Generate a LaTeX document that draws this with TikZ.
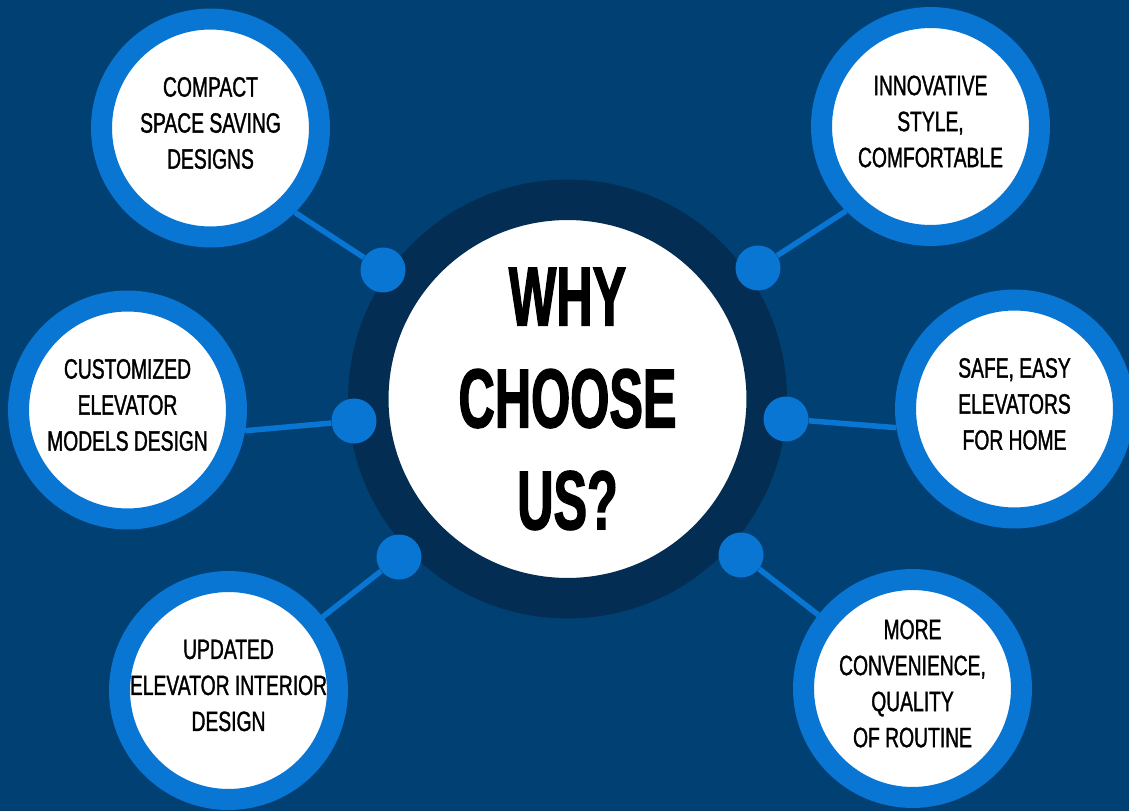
\documentclass[tikz,border=0pt]{standalone}
\usepackage{fontspec}
\setmainfont{Liberation Sans}
\newfontfamily\itemfont[FakeStretch=0.69,FakeBold=1.2]{Liberation Sans}
\newfontfamily\titlefont[FakeStretch=0.6,FakeBold=1.5]{Liberation Sans}
\definecolor{bgblue}{RGB}{1,64,115}
\definecolor{ringblue}{RGB}{9,118,212}
\definecolor{darkring}{RGB}{3,45,82}

\begin{document}
\begin{tikzpicture}[x=0.02cm, y=-0.02cm,
    sat/.style={circle, fill=white, draw=ringblue, line width=0.42cm,
        minimum size=4.36cm, inner sep=0pt},
    sattext/.style={align=center, inner sep=0pt,
        font=\itemfont\fontsize{15.9}{20.5}\selectfont},
    dot/.style={circle, fill=ringblue, minimum size=0.9cm, inner sep=0pt},
    link/.style={ringblue, line width=0.11cm}]
            % Background
            \useasboundingbox (0,0) rectangle (1129,811);
            \fill[bgblue] (0,0) rectangle (1129,811);
            % Center
            \node[circle, fill=white, draw=darkring, line width=0.81cm,
                minimum size=7.97cm, inner sep=0pt, align=center,
                font=\titlefont\bfseries\fontsize{47.7}{58}\selectfont]
                (Center) at (567.5,399) {WHY\\CHOOSE\\US?};
            % Satellites
            \foreach \name/\x/\y/\txt in {
                tl/210.5/128/{COMPACT\\SPACE SAVING\\DESIGNS},
                ml/127.5/410/{CUSTOMIZED\\ELEVATOR\\MODELS DESIGN},
                bl/228.5/690.5/{UPDATED\\ELEVATOR INTERIOR\\DESIGN},
                tr/930.5/126.5/{INNOVATIVE\\STYLE,\\COMFORTABLE},
                mr/1014.5/409/{SAFE, EASY\\ELEVATORS\\FOR HOME},
                br/912.5/688.5/{MORE\\CONVENIENCE,\\QUALITY\\OF ROUTINE}} {
                \node[sat] (Sat-\name) at (\x,\y) {};
                \node[sattext] (Txt-\name) at ([yshift=0.1cm]Sat-\name.center) {\txt};
            }
            % Dots
            \foreach \name/\x/\y in {tl/383/270, ml/354/421, bl/399/557,
                tr/758/268, mr/786/419, br/741/555} {
                \node[dot] (Dot-\name) at (\x,\y) {};
            }
            % Connectors
            \foreach \name/\ang in {tl/-45, ml/-10, bl/38, tr/-135, mr/-171, br/142} {
                \draw[link] (Dot-\name) -- (Sat-\name.\ang);
            }
\end{tikzpicture}
\end{document}
